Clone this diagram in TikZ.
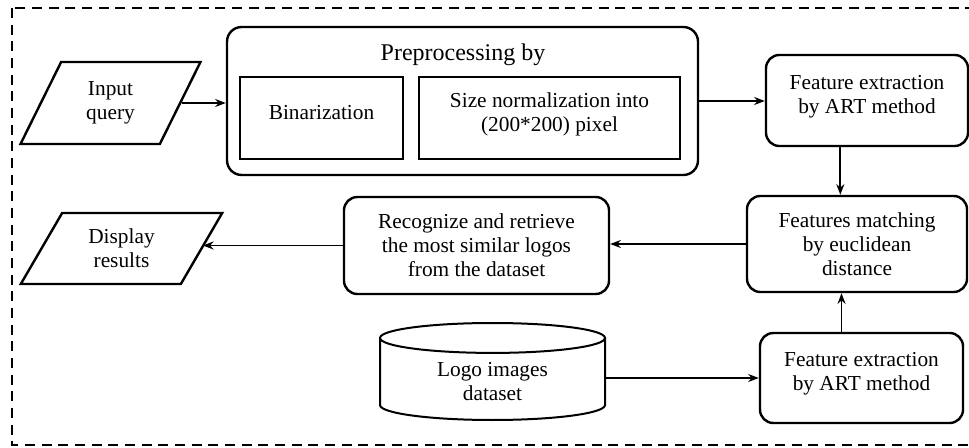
\documentclass[tikz,border=0pt]{standalone}
\usepackage{fontspec}
\setmainfont{Liberation Serif}
\usetikzlibrary{arrows.meta, positioning, calc, shapes.geometric}
\tikzset{
  stage/.style={draw, rounded corners=10pt, line width=1.8pt, align=center, inner sep=2pt},
  subbox/.style={draw, line width=1.8pt, align=center},
  io/.style={draw, trapezium, trapezium left angle=65, trapezium right angle=115, trapezium stretches=true, line width=1.8pt, align=center, inner sep=1pt},
  store/.style={draw, cylinder, shape border rotate=90, aspect=0.25, line width=1.5pt, align=center, anchor=shape center},
  link/.style={-{Stealth[length=8pt, width=6pt]}, line width=1.3pt},
  frame/.style={dash pattern=on 7.5pt off 5pt, line width=1.8pt}
}

\begin{document}
\begin{tikzpicture}[x=0.75pt, y=-0.75pt, font=\fontsize{16}{18}\selectfont]
        \useasboundingbox (0,0) rectangle (969,448);
        % Dashed frame
        \draw[frame] (12,8) rectangle (990,445);

        % Preprocessing block
        \node[stage, rounded corners=11pt, minimum width=353.25pt, minimum height=111pt] (prep) at (462.5,101) {};
        \node[font=\fontsize{18}{20}\selectfont] (preptitle) at (463,55) {Preprocessing by};
        \node[subbox, text depth=8pt, minimum width=122.25pt, minimum height=61.5pt] (binar) at (321.5,118) {Binarization};
        \node[subbox, text depth=9.5pt, minimum width=195.75pt, minimum height=61.5pt] (sizenorm) at (549.5,118) {Size normalization into\\(200*200) pixel};

        % Input and output
        \node[io, minimum width=135.75pt, minimum height=61.5pt] (query) at (110.5,103) {Input\\query};
        \node[io, trapezium left angle=60, trapezium right angle=120, minimum width=152.25pt, minimum height=53.25pt] (display) at (121.5,248.5) {Display\\results};

        % Feature stages
        \node[stage, text depth=9.5pt, minimum width=151.5pt, minimum height=68.25pt] (extract) at (867,100.5) {Feature extraction\\by ART method};
        \node[stage, minimum width=165pt, minimum height=72pt] (match) at (857,244) {Features matching\\by euclidean\\distance};
        \node[stage, minimum width=198.75pt, minimum height=72.75pt] (recog) at (476.5,245.5) {Recognize and retrieve\\the most similar logos\\from the dataset};
        \node[stage, text depth=10pt, minimum width=152.25pt, minimum height=67.5pt] (extractdb) at (861.5,378) {Feature extraction\\by ART method};
        \node[store, minimum width=168.75pt, minimum height=72.75pt] (logos) at (492.5,371.5) {Logo images\\dataset};

        % Links
        \draw[link] (query.east) -- (query.east -| prep.west);
        \draw[link] (prep.east) -- (prep.east -| extract.west);
        \draw[link] ([xshift=-20pt]extract.south) -- ([xshift=-20pt]extract.south |- match.north);
        \draw[link] (match.west) -- (match.west -| recog.east);
        \draw[link] (recog.west) -- (recog.west -| display.east);
        \draw[link] (extractdb.west -| logos.east) -- (extractdb.west);
        \draw[link] ([xshift=-15pt]extractdb.north) -- ([xshift=-15pt]extractdb.north |- match.south);
    \end{tikzpicture}
\end{document}
